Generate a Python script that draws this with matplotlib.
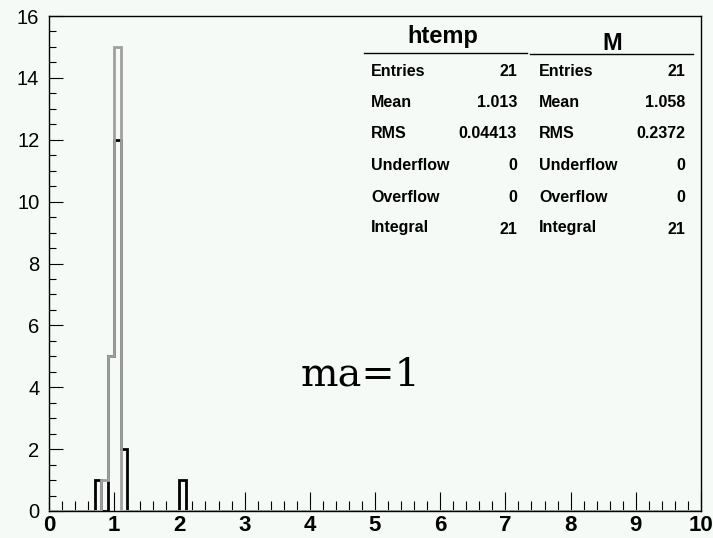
import matplotlib
matplotlib.use("Agg")
import matplotlib.pyplot as plt
import numpy as np

# histogram contents (bin low edge -> count), 100 bins on [0, 10]
n_bins = 100
x_lo, x_hi = 0.0, 10.0
htemp_bins = [0.8, 0.9, 1.0]
htemp_counts = [1, 5, 15]
m_bins = [0.7, 0.9, 1.0, 1.1, 2.0]
m_counts = [1, 5, 12, 2, 1]

# stats boxes
stat_names = ["Entries", "Mean", "RMS", "Underflow", "Overflow", "Integral"]
htemp_stats = ["21", "1.013", "0.04413", "0", "0", "21"]
m_stats = ["21", "1.058", "0.2372", "0", "0", "21"]

W, H = 713, 538
bg = "#f5faf7"


def fill_hist(bins, counts):
    width = (x_hi - x_lo) / n_bins
    h = np.zeros(n_bins)
    idx = np.round((np.array(bins) - x_lo) / width).astype(int)
    h[idx] = counts
    return h


def px(x, y):
    # image pixel -> figure fraction
    return x / W, 1 - y / H


edges = np.linspace(x_lo, x_hi, n_bins + 1)
h_htemp = fill_hist(htemp_bins, htemp_counts)
h_m = fill_hist(m_bins, m_counts)

fig = plt.figure(figsize=(W / 100, H / 100), dpi=100, facecolor=bg)
ax = fig.add_axes([49 / W, (H - 511) / H, 652 / W, 495 / H])
ax.set_facecolor(bg)

ax.stairs(h_m, edges, color="black", lw=2.0, zorder=2)
ax.stairs(h_htemp, edges, color="#a0a0a0", lw=2.0, zorder=3)

ax.set_xlim(0, 10)
ax.set_ylim(0, 16)
ax.set_xticks(np.arange(0, 11, 1))
ax.set_xticks(np.arange(0, 10.01, 0.2), minor=True)
ax.set_yticks(np.arange(0, 17, 2))
ax.set_yticks(np.arange(0, 16.01, 0.5), minor=True)

ax.tick_params(axis="x", which="major", direction="in", length=14, width=0.8, pad=3)
ax.tick_params(axis="x", which="minor", direction="in", length=7, width=0.8)
ax.tick_params(axis="y", which="major", direction="in", length=10, width=0.8, pad=7)
ax.tick_params(axis="y", which="minor", direction="in", length=5, width=0.8)
for lab in ax.get_xticklabels():
    lab.set_fontfamily("Liberation Sans")
    lab.set_fontweight("bold")
    lab.set_fontsize(16)
for lab in ax.get_yticklabels():
    lab.set_fontfamily("Liberation Sans")
    lab.set_fontsize(14.5)
for s in ax.spines.values():
    s.set_linewidth(1.0)

# stats panels
fig.text(*px(443, 37), "htemp", ha="center", va="center",
         family="Liberation Sans", weight="bold", fontsize=17)
fig.text(*px(612, 43), "M", ha="center", va="center",
         family="Liberation Sans", weight="bold", fontsize=17)
fig.add_artist(plt.Line2D([364 / W, 527 / W], [1 - 53 / H] * 2,
                          transform=fig.transFigure, color="black", lw=1))
fig.add_artist(plt.Line2D([530 / W, 693 / W], [1 - 54 / H] * 2,
                          transform=fig.transFigure, color="black", lw=1))

row_y = [71, 102, 133, 166, 197, 227]
for i, name in enumerate(stat_names):
    dy = 3 if name == "Integral" else 0
    fig.text(*px(371, row_y[i]), name, ha="left", va="center",
             family="Liberation Sans", weight="bold", fontsize=11.5)
    fig.text(*px(517, row_y[i] + dy), htemp_stats[i], ha="right", va="center",
             family="Liberation Sans", weight="bold", fontsize=11.5)
    fig.text(*px(539, row_y[i]), name, ha="left", va="center",
             family="Liberation Sans", weight="bold", fontsize=11.5)
    fig.text(*px(685, row_y[i] + dy), m_stats[i], ha="right", va="center",
             family="Liberation Sans", weight="bold", fontsize=11.5)

fig.text(*px(301, 386), "ma=1", ha="left", va="baseline",
         family="DejaVu Serif", fontsize=28.5)

fig.savefig("out.png", dpi=100, facecolor=bg)
